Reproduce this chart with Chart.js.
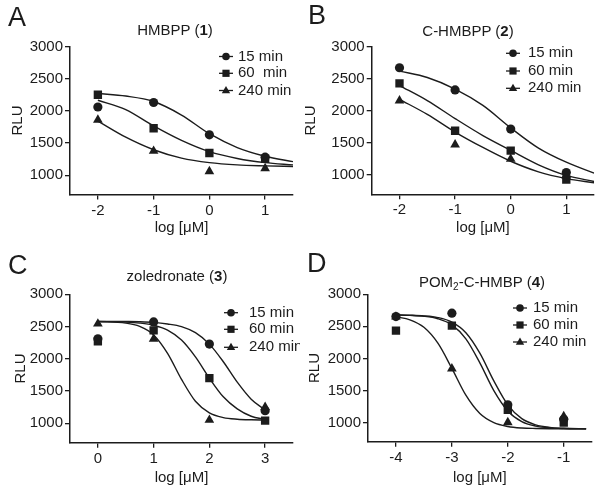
<!DOCTYPE html>
<html>
<head>
<meta charset="utf-8">
<script src="https://cdn.jsdelivr.net/npm/chart.js@4.4.1/dist/chart.umd.min.js"></script>
<style>
    body { margin: 0; background: #fff; }
    #fig { position: relative; width: 600px; height: 491px; overflow: hidden;
           font-family: "Liberation Sans", Arial, sans-serif; color: #1c1c1c; }
    .box { position: absolute; }
    .letter { position: absolute; font-size: 27px; line-height: 1; }
    .title { position: absolute; font-size: 15px; line-height: 1; white-space: nowrap; transform: translateX(-50%); }
    .sub { font-size: 10px; position: relative; top: 3px; }
</style>
</head>
<body>
<div id="fig">
    <canvas class="box" id="pA" width="300" height="250" style="left:0;top:0"></canvas>
    <canvas class="box" id="pB" width="300" height="250" style="left:300px;top:0"></canvas>
    <canvas class="box" id="pC" width="300" height="241" style="left:0;top:250px"></canvas>
    <canvas class="box" id="pD" width="300" height="241" style="left:300px;top:250px"></canvas>

    <div class="letter" style="left:8px;top:4px">A</div>
    <div class="letter" style="left:308px;top:2px">B</div>
    <div class="letter" style="left:8px;top:252px">C</div>
    <div class="letter" style="left:307px;top:250px">D</div>

    <div class="title" style="left:175px;top:22px">HMBPP (<b>1</b>)</div>
    <div class="title" style="left:468px;top:23px">C-HMBPP (<b>2</b>)</div>
    <div class="title" style="left:177px;top:268px">zoledronate (<b>3</b>)</div>
    <div class="title" style="left:482px;top:274px">POM<span class="sub">2</span>-C-HMBP (<b>4</b>)</div>
</div>

<script>
// ---- data ----
const yTicks = [1000, 1500, 2000, 2500, 3000];
const seriesLabels = ['15 min', '60 min', '240 min'];

// A: HMBPP (1)
const aTicks = [-2, -1, 0, 1];
const aDoseX = [-2, -1, 0, 1];
const a15 = [2060, 2130, 1628, 1280];
const a60 = [2250, 1730, 1345, 1255];
const a240 = [1860, 1375, 1060, 1105];
const aFitX = [-2, -1.5, -1, -0.5, 0, 0.5, 1, 1.5];
const aFit15 = [2270, 2230, 2145, 1935, 1645, 1430, 1295, 1210];
const aFit60 = [2165, 2020, 1765, 1540, 1365, 1260, 1195, 1160];
const aFit240 = [1840, 1590, 1395, 1265, 1195, 1160, 1145, 1135];

// B: C-HMBPP (2)
const bTicks = [-2, -1, 0, 1];
const bDoseX = [-2, -1, 0, 1];
const b15 = [2672, 2326, 1716, 1040];
const b60 = [2429, 1690, 1380, 930];
const b240 = [2160, 1473, 1250, 990];
const bFitX = [-2, -1.5, -1, -0.5, 0, 0.5, 1, 1.5];
const bFit15 = [2620, 2520, 2340, 2085, 1735, 1420, 1200, 1030];
const bFit60 = [2395, 2160, 1880, 1615, 1385, 1160, 995, 900];
const bFit240 = [2180, 1945, 1670, 1430, 1215, 1050, 945, 880];

// C: zoledronate (3)
const cTicks = [0, 1, 2, 3];
const cDoseX = [0, 1, 2, 3];
const c15 = [2310, 2572, 2228, 1197];
const c60 = [2270, 2442, 1700, 1042];
const c240 = [2543, 2309, 1052, 1250];
const cFitX = [0, 0.5, 0.75, 1, 1.25, 1.5, 1.75, 2, 2.25, 2.5, 2.75, 3];
const cFit15 = [2580, 2578, 2575, 2565, 2540, 2499, 2405, 2228, 1955, 1639, 1375, 1208];
const cFit60 = [2578, 2569, 2554, 2520, 2444, 2290, 2029, 1700, 1411, 1224, 1110, 1060];
const cFit240 = [2577, 2553, 2502, 2371, 2086, 1682, 1342, 1162, 1089, 1064, 1055, 1052];

// D: POM2-C-HMBP (4)
const dTicks = [-4, -3, -2, -1];
const dDoseX = [-4, -3, -2, -1];
const d15 = [2653, 2705, 1275, 1050];
const d60 = [2432, 2510, 1197, 1000];
const d240 = [2650, 1839, 1000, 1094];
const dFitX = [-4, -3.75, -3.5, -3.25, -3, -2.75, -2.5, -2.25, -2, -1.75, -1.5, -1.25, -1, -0.6];
const dFit15 = [2678, 2674, 2664, 2637, 2566, 2401, 2082, 1649, 1275, 1059, 962, 923, 910, 902];
const dFit60 = [2677, 2671, 2657, 2618, 2522, 2305, 1931, 1498, 1180, 1013, 944, 916, 906, 901];
const dFit240 = [2650, 2602, 2485, 2237, 1843, 1425, 1139, 997, 938, 914, 906, 902, 901, 900];

// ---- drawing ----
const INK = '#1c1c1c';
const FONT = '"Liberation Sans", Arial, sans-serif';
const markerStyles = ['circle', 'rect', 'triangle'];
const markerRadius = [4.6, 5.9, 5.6];

const pts = (xs, ys) => xs.map((x, i) => ({ x: x, y: ys[i] }));

function drawMarker(ctx, style, x, y, r) {
    ctx.beginPath();
    if (style === 'circle') {
        ctx.arc(x, y, r, 0, Math.PI * 2);
    } else if (style === 'rect') {
        ctx.rect(x - r, y - r, 2 * r, 2 * r);
    } else {
        ctx.moveTo(x, y - r * 1.15);
        ctx.lineTo(x + r * 1.05, y + r * 0.7);
        ctx.lineTo(x - r * 1.05, y + r * 0.7);
        ctx.closePath();
    }
    ctx.fill();
}

// small legend drawn inside the plot, GraphPad style (line - marker - line)
const miniLegend = {
    id: 'miniLegend',
    afterDraw(chart, args, opts) {
        const ctx = chart.ctx;
        ctx.save();
        ctx.font = '15px ' + FONT;
        ctx.textBaseline = 'middle';
        ctx.fillStyle = INK;
        ctx.strokeStyle = INK;
        ctx.lineWidth = 1.3;
        opts.labels.forEach((label, i) => {
            const y = opts.rows[i];
            ctx.beginPath();
            ctx.moveTo(opts.x - 7, y);
            ctx.lineTo(opts.x + 7, y);
            ctx.stroke();
            drawMarker(ctx, markerStyles[i], opts.x, y, [3.8, 3.6, 4][i]);
            ctx.fillText(label, opts.textX, y);
        });
        ctx.restore();
    }
};

function panel(id, p) {
    const datasets = [];
    p.points.forEach((vals, i) => {
        datasets.push({
            data: pts(p.doseX, vals),
            pointStyle: markerStyles[i],
            pointRadius: markerRadius[i],
            backgroundColor: INK,
            borderColor: INK,
            borderWidth: 0
        });
    });
    p.fits.forEach(vals => {
        datasets.push({
            data: pts(p.fitX, vals),
            showLine: true,
            pointRadius: 0,
            borderColor: INK,
            borderWidth: 1.4,
            cubicInterpolationMode: 'monotone',
            fill: false
        });
    });

    const canvas = document.getElementById(id);
    const H = canvas.height;

    new Chart(canvas, {
        type: 'scatter',
        data: { datasets: datasets },
        plugins: [miniLegend],
        options: {
            responsive: false,
            animation: false,
            events: [],
            layout: { padding: { top: p.area.top, right: 300 - p.area.right, left: 0, bottom: 0 } },
            plugins: {
                legend: { display: false },
                tooltip: { enabled: false },
                miniLegend: p.legend
            },
            scales: {
                x: {
                    type: 'linear',
                    min: p.xRange[0],
                    max: p.xRange[1],
                    afterBuildTicks: axis => { axis.ticks = p.xTicks.map(v => ({ value: v })); },
                    afterFit: axis => { axis.height = H - p.area.bottom; },
                    border: { display: true, color: INK, width: 1.5 },
                    grid: { drawOnChartArea: false, drawTicks: true, tickLength: 5, color: INK, lineWidth: 1.3 },
                    ticks: { color: INK, font: { family: FONT, size: 15 }, padding: 2, maxRotation: 0, autoSkip: false,
                             callback: v => String(v) },
                    title: { display: true, text: 'log [μM]', color: INK, font: { family: FONT, size: 15 },
                             padding: { top: 0, bottom: p.xTitlePad } }
                },
                y: {
                    min: 700,
                    max: 3000,
                    afterBuildTicks: axis => { axis.ticks = yTicks.map(v => ({ value: v })); },
                    afterFit: axis => { axis.width = p.area.left; },
                    border: { display: true, color: INK, width: 1.5 },
                    grid: { drawOnChartArea: false, drawTicks: true, tickLength: 5, color: INK, lineWidth: 1.3 },
                    ticks: { color: INK, font: { family: FONT, size: 15 }, padding: 2, autoSkip: false,
                             callback: v => String(v) },
                    title: { display: true, text: 'RLU', color: INK, font: { family: FONT, size: 15 },
                             padding: { top: p.yTitlePad, bottom: 0 } }
                }
            }
        }
    });
}

panel('pA', {
    doseX: aDoseX, points: [a15, a60, a240],
    fitX: aFitX, fits: [aFit15, aFit60, aFit240],
    xTicks: aTicks, xRange: [-2.5, 1.5],
    area: { left: 70, top: 46.5, right: 293, bottom: 194.5 },
    xTitlePad: 13, yTitlePad: 8.5,
    legend: { x: 226, textX: 238, rows: [56.5, 73.3, 90.5], labels: ['15 min', '60  min', '240 min'] }
});

panel('pB', {
    doseX: bDoseX, points: [b15, b60, b240],
    fitX: bFitX, fits: [bFit15, bFit60, bFit240],
    xTicks: bTicks, xRange: [-2.5, 1.5],
    area: { left: 71.7, top: 46.7, right: 295, bottom: 194.3 },
    xTitlePad: 13, yTitlePad: 1.5,
    legend: { x: 213, textX: 228, rows: [53.3, 71, 88.3], labels: seriesLabels }
});

panel('pC', {
    doseX: cDoseX, points: [c15, c60, c240],
    fitX: cFitX, fits: [cFit15, cFit60, cFit240],
    xTicks: cTicks, xRange: [-0.5, 3.5],
    area: { left: 70, top: 44.3, right: 293, bottom: 192.7 },
    xTitlePad: 4, yTitlePad: 11.5,
    legend: { x: 231, textX: 249, rows: [62.7, 79.3, 97.3], labels: seriesLabels }
});

panel('pD', {
    doseX: dDoseX, points: [d15, d60, d240],
    fitX: dFitX, fits: [dFit15, dFit60, dFit240],
    xTicks: dTicks, xRange: [-4.5, -0.5],
    area: { left: 68, top: 44.3, right: 291.7, bottom: 191.7 },
    xTitlePad: 4, yTitlePad: 5.5,
    legend: { x: 220, textX: 233, rows: [58, 75, 92], labels: seriesLabels }
});
</script>
</body>
</html>
